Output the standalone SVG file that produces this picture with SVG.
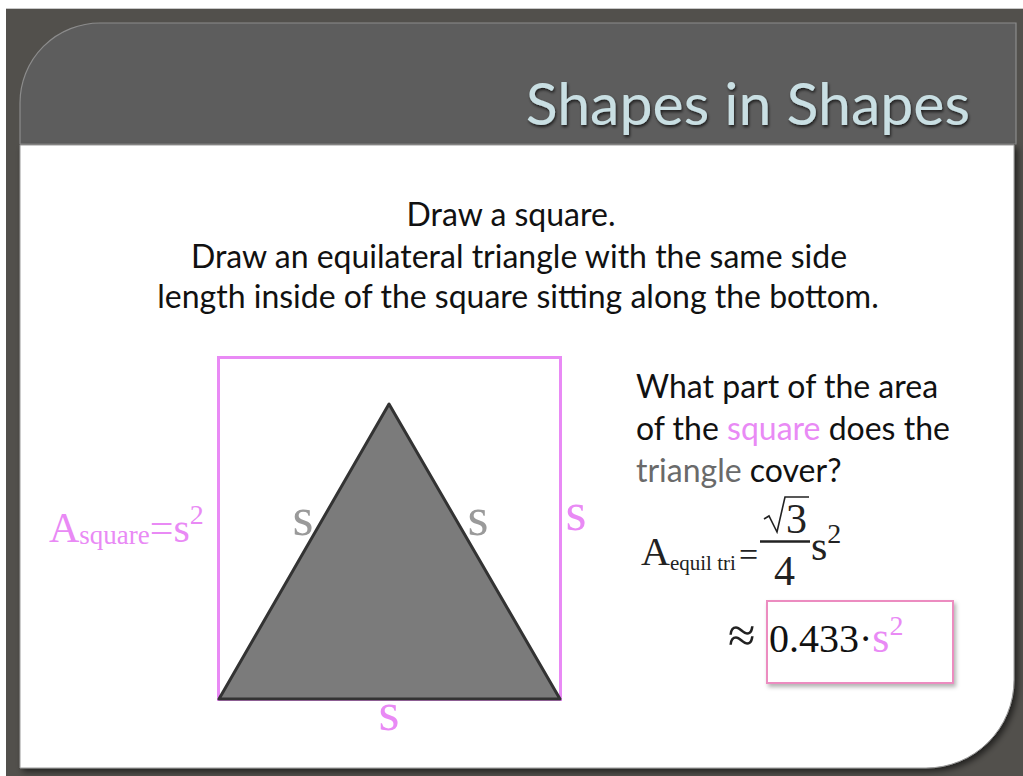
<svg xmlns="http://www.w3.org/2000/svg" width="1023" height="776" viewBox="0 0 1023 776">
<defs>
<style>
.body{font-family:Lato,"Open Sans",sans-serif;font-size:32px;fill:#111}
.serif{font-family:"Liberation Serif","Times New Roman",serif}
.pink{fill:#e98af5}
.grayt{fill:#6a6a6a}
</style>
<filter id="shadow" x="-5%" y="-5%" width="115%" height="115%">
<feDropShadow dx="3" dy="3" stdDeviation="3" flood-color="#000" flood-opacity="0.6"/>
</filter>
<filter id="tshadow" x="-5%" y="-20%" width="110%" height="150%">
<feDropShadow dx="1" dy="2" stdDeviation="1.5" flood-color="#000" flood-opacity="0.7"/>
</filter>
<filter id="bshadow" x="-10%" y="-10%" width="125%" height="130%">
<feDropShadow dx="2" dy="3" stdDeviation="2" flood-color="#000" flood-opacity="0.3"/>
</filter>
</defs>

<g id="background">
<rect x="0" y="0" width="1023" height="776" fill="#ffffff"/>
<rect x="6" y="8" width="1017" height="768" fill="#52504c"/>
<line x1="6" y1="8.5" x2="1023" y2="8.5" stroke="#c8c8c8" stroke-width="1"/>
</g>

<g id="header">
<path d="M20,144 L20,103 A80,80 0 0 1 100,23 L1016,23 L1016,144 Z" fill="#5d5d5d" stroke="#8c8c8c" stroke-width="1.2"/>
<text x="970" y="125" text-anchor="end" font-family="Lato,'Open Sans',sans-serif" font-size="59" fill="#c9dfe3" filter="url(#tshadow)">Shapes in Shapes</text>
</g>

<g id="content-panel">
<path d="M20,145 L1014,145 L1014,680 A88,88 0 0 1 926,768 L20,768 Z" fill="#ffffff" stroke="#9a9a9a" stroke-width="1" filter="url(#shadow)"/>
</g>

<g id="instructions">
<text class="body" text-anchor="middle" x="511" y="226">Draw a square.</text>
<text class="body" text-anchor="middle" x="519" y="268">Draw an equilateral triangle with the same side</text>
<text class="body" text-anchor="middle" x="518" y="308">length inside of the square sitting along the bottom.</text>
</g>

<g id="square">
<rect x="218.5" y="357.5" width="342" height="342" fill="none" stroke="#e98af5" stroke-width="3"/>
</g>

<g id="triangle">
<polygon points="389,404 219,699 560,699" fill="#7b7b7b" stroke="#333333" stroke-width="3" stroke-linejoin="round"/>
</g>

<g id="side-labels">
<text class="serif" x="303" y="535" text-anchor="middle" font-size="54" fill="#9a9a9a">s</text>
<text class="serif" x="478" y="535" text-anchor="middle" font-size="54" fill="#9a9a9a">s</text>
<text class="serif pink" x="576" y="530" text-anchor="middle" font-size="54">s</text>
<text class="serif pink" x="389" y="730" text-anchor="middle" font-size="54">s</text>
</g>

<g id="square-area">
<text class="serif pink" x="49" y="542" font-size="42">A<tspan font-size="27" dy="2">square</tspan><tspan dy="-2" font-size="42">=s</tspan><tspan font-size="28" dy="-18">2</tspan></text>
</g>

<g id="question">
<text class="body" x="636" y="398">What part of the area</text>
<text class="body" x="636" y="440">of the <tspan class="pink">square</tspan> does the</text>
<text class="body" x="636" y="482"><tspan class="grayt">triangle</tspan> cover?</text>
</g>

<g id="triangle-area">
<text class="serif" x="641" y="565" font-size="40" fill="#222">A<tspan font-size="21" dy="5">equil tri</tspan></text>
<text class="serif" x="739" y="566" font-size="34" fill="#222">=</text>
<line x1="760" y1="541.5" x2="810" y2="541.5" stroke="#222" stroke-width="2.5"/>
<path d="M764,519 L769,516 L777,532 L785,497 L809,497" fill="none" stroke="#222" stroke-width="1.6"/>
<text class="serif" x="786" y="533" font-size="42" fill="#222">3</text>
<text class="serif" x="774" y="585" font-size="42" fill="#222">4</text>
<text class="serif" x="811" y="560" font-size="42" fill="#222">s<tspan font-size="28" dy="-17">2</tspan></text>
</g>

<g id="result">
<text class="serif" x="728" y="652" font-size="50" fill="#222">≈</text>
<rect x="767" y="601" width="186" height="82" fill="#ffffff" stroke="#ec8cc0" stroke-width="2" filter="url(#bshadow)"/>
<text class="serif" x="769" y="652" font-size="40" fill="#111">0.433·<tspan class="pink" font-size="44">s</tspan><tspan class="pink" font-size="28" dy="-17">2</tspan></text>
</g>
</svg>
